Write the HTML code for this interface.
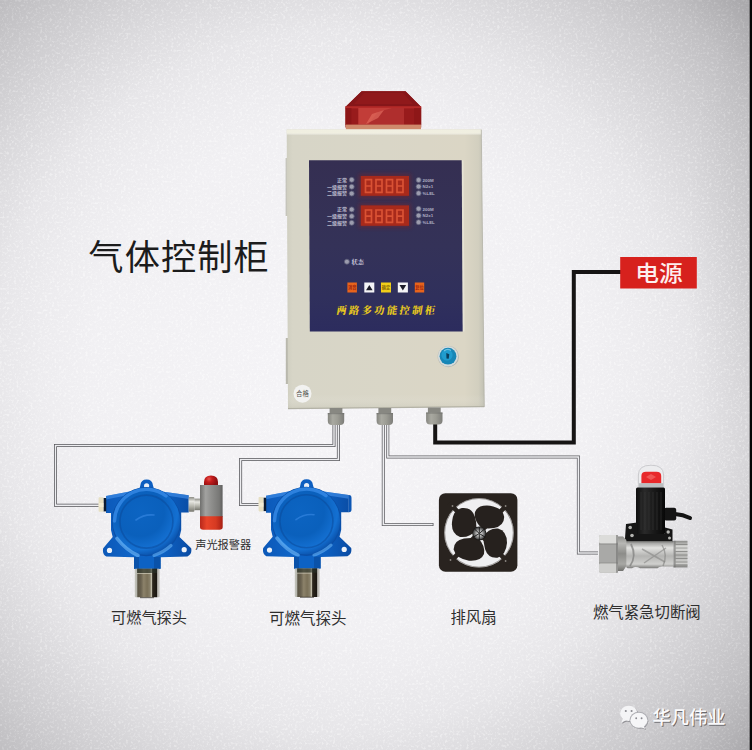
<!DOCTYPE html>
<html lang="zh-CN">
<head>
<meta charset="utf-8">
<title>气体控制柜</title>
<style>
html,body{margin:0;padding:0;background:#e9e9eb;}
body{width:752px;height:750px;overflow:hidden;position:relative;font-family:"Liberation Sans","Noto Sans CJK SC",sans-serif;}
svg{position:absolute;left:0;top:0;display:block;}
text{font-family:"Liberation Sans","Noto Sans CJK SC",sans-serif;}
.serif{font-family:"Liberation Serif","Noto Serif CJK SC",serif;}
</style>
</head>
<body>
<svg width="752" height="750" viewBox="0 0 752 750">
<defs>
  <radialGradient id="bg" gradientUnits="userSpaceOnUse" cx="340" cy="380" r="560">
    <stop offset="0.000" stop-color="#f5f4f7"/>
    <stop offset="0.446" stop-color="#f1f0f3"/>
    <stop offset="0.536" stop-color="#edecef"/>
    <stop offset="0.625" stop-color="#e7e6e9"/>
    <stop offset="0.714" stop-color="#dbdadd"/>
    <stop offset="0.804" stop-color="#cecdd0"/>
    <stop offset="0.893" stop-color="#c0bfc2"/>
    <stop offset="0.964" stop-color="#afaeb1"/>
    <stop offset="1.000" stop-color="#a7a6a9"/>
  </radialGradient>
  <radialGradient id="bgbr" gradientUnits="userSpaceOnUse" cx="0" cy="0" r="1" gradientTransform="translate(756 255) scale(70 250)">
    <stop offset="0" stop-color="#000" stop-opacity="0.042"/>
    <stop offset="0.5" stop-color="#000" stop-opacity="0.02"/>
    <stop offset="1" stop-color="#000" stop-opacity="0"/>
  </radialGradient>
  <radialGradient id="grainmask" gradientUnits="userSpaceOnUse" cx="340" cy="380" r="560">
    <stop offset="0" stop-color="#fff" stop-opacity="1"/>
    <stop offset="0.6" stop-color="#fff" stop-opacity="0.9"/>
    <stop offset="0.8" stop-color="#fff" stop-opacity="0.55"/>
    <stop offset="1" stop-color="#fff" stop-opacity="0.3"/>
  </radialGradient>
  <filter id="blur2" x="-20%" y="-40%" width="140%" height="180%"><feGaussianBlur stdDeviation="2"/></filter>
  <filter id="grain" x="0" y="0" width="100%" height="100%">
    <feTurbulence type="fractalNoise" baseFrequency="0.42" numOctaves="2" seed="7" result="n"/>
    <feColorMatrix in="n" type="matrix" values="0 0 0 0 1  0 0 0 0 1  0 0 0 0 1  2.2 2.2 2.2 0 -3.3" result="g"/>
    <feComposite in="g" in2="SourceGraphic" operator="in"/>
  </filter>
  <!-- cabinet -->
  <linearGradient id="cab" x1="0" y1="0" x2="1" y2="0">
    <stop offset="0" stop-color="#cfcec0"/>
    <stop offset="0.03" stop-color="#d7d5c7"/>
    <stop offset="0.5" stop-color="#d9d6c7"/>
    <stop offset="0.9" stop-color="#dbd6c5"/>
    <stop offset="0.97" stop-color="#d2cfbf"/>
    <stop offset="1" stop-color="#c0bfb3"/>
  </linearGradient>
  <linearGradient id="cabv" x1="0" y1="0" x2="0" y2="1">
    <stop offset="0" stop-color="#f3f2e4" stop-opacity="0.9"/>
    <stop offset="0.012" stop-color="#f3f2e4" stop-opacity="0.9"/>
    <stop offset="0.02" stop-color="#ffffff" stop-opacity="0"/>
    <stop offset="0.95" stop-color="#ffffff" stop-opacity="0"/>
    <stop offset="1" stop-color="#b8b7a8" stop-opacity="0.3"/>
  </linearGradient>
  <linearGradient id="panel" x1="0" y1="0" x2="0" y2="1">
    <stop offset="0" stop-color="#352f52"/>
    <stop offset="0.5" stop-color="#343258"/>
    <stop offset="0.8" stop-color="#30305c"/>
    <stop offset="1" stop-color="#2c2c5e"/>
  </linearGradient>
  <linearGradient id="gland" x1="0" y1="0" x2="1" y2="0">
    <stop offset="0" stop-color="#85857f"/>
    <stop offset="0.3" stop-color="#a9a9a1"/>
    <stop offset="0.6" stop-color="#9c9c94"/>
    <stop offset="1" stop-color="#7d7d79"/>
  </linearGradient>
  <g id="glandg">
    <rect x="-6.400" y="0" width="12.800" height="5.500" fill="#888882"/>
    <path d="M-8.2 5 h16.4 v8 q0 4 -4 4 h-8.4 q-4 0 -4 -4z" fill="url(#gland)"/>
    <rect x="-8.2" y="5" width="16.4" height="1.2" fill="#6f6f6d" opacity="0.6"/>
  </g>
</defs>

<!-- background -->
<rect x="0" y="0" width="752" height="750" fill="url(#bg)"/>
<rect x="680" y="0" width="72" height="520" fill="url(#bgbr)"/>
<rect x="0" y="0" width="752" height="750" fill="url(#grainmask)" filter="url(#grain)" opacity="0.45"/>
<rect x="749.7" y="0" width="2.3" height="750" fill="#050505"/>

<!-- ================= WIRES ================= -->
<g fill="none" stroke-linejoin="miter">
  <g stroke="#55555a" stroke-width="3">
    <path d="M334 424 V445.4 H55.5 V505.2 H99"/>
    <path d="M338.4 424 V459.4 H240.6 V504.4 H259.5"/>
  </g>
  <g stroke="#5e5e63" stroke-width="3">
    <path d="M383.3 424 V524.4 H433.5"/>
    <path d="M387.8 424 V457 H578.4 V553 H598"/>
  </g>
  <g stroke="#ededf0" stroke-width="1.5">
    <path d="M334 424 V445.4 H55.5 V505.2 H99"/>
    <path d="M338.4 424 V459.4 H240.6 V504.4 H259.5"/>
    <path d="M383.3 424 V524.4 H432.7"/>
    <path d="M387.8 424 V457 H578.4 V553 H598"/>
  </g>
  <!-- power cable -->
  <path d="M435.2 423 V442.4 H573.8 V272.1 H621" stroke="#161414" stroke-width="4"/>
</g>

<!-- ================= CABINET ================= -->
<g id="cabinet">
  <!-- side hinge -->
  <rect x="285.800" y="338" width="2.600" height="46" fill="#b9b8ad"/>
  <rect x="285.600" y="158" width="2.400" height="58" fill="#bdbcb0" opacity="0.85"/>
  <!-- beacon -->
  <g id="beacon">
    <path d="M345.4 127.5 V107 L361.6 91.3 H405.5 L421.2 107 V127.5 Z" fill="#981b1c"/>
    <path d="M361.6 91.3 H405.5 L421.2 107 H345.4 Z" fill="#861619"/>
    <path d="M364 93 H403 L413 104 H354 Z" fill="#90191b"/>
    <rect x="345.4" y="106.2" width="75.8" height="2.2" fill="#b42a28"/>
    <rect x="358.3" y="108" width="45.7" height="16.5" fill="#c23d38"/>
    <path d="M368 124.5 L378 112 L392 108 H404 V124.5Z" fill="#a82a2a" opacity="0.75"/>
    <path d="M366 124 L372 114 L384 110 L378 118Z" fill="#e06a5c" opacity="0.7"/>
    <rect x="345.4" y="108" width="6" height="17" fill="#8a1517" opacity="0.8"/>
    <rect x="414" y="108" width="7.2" height="17" fill="#8a1517" opacity="0.7"/>
    <rect x="345.800" y="124.600" width="75.200" height="5" fill="#cf8a6c"/>
  </g>
  <!-- body -->
  <path d="M286.7 129.6 H481.3 L484.3 406.8 L288 408.8 Z" fill="url(#cab)"/>
  <path d="M286.7 129.6 H481.3 L484.3 406.8 L288 408.8 Z" fill="url(#cabv)"/>
  <path d="M481.3 129.6 L484.3 406.8" stroke="#aeada0" stroke-width="1" opacity="0.7"/>
  <path d="M288 408.6 L484.3 406.7" stroke="#a9a89b" stroke-width="1.2" opacity="0.8"/>

  <!-- blue panel -->
  <path d="M309 160.200 H461.700 L462.700 331.500 H309.800 Z" fill="url(#panel)"/>
  <path d="M461.700 160.200 L462.700 331.500" stroke="#ebe9dc" stroke-width="1.600" opacity="0.7" transform="translate(1,0)"/>

  <!-- LED displays -->
  <g>
    <rect x="359" y="174" width="51.500" height="24" fill="#8a2420" opacity="0.45" filter="url(#blur2)"/>
    <rect x="359" y="203.500" width="51.500" height="24" fill="#8a2420" opacity="0.45" filter="url(#blur2)"/>
    <rect x="360.800" y="176" width="48.200" height="19.800" fill="#a82a1b"/>
    <rect x="360.800" y="205.400" width="48.200" height="20.400" fill="#a82a1b"/>
    <g fill="none" stroke="#da5234" stroke-width="1.700">
      <path d="M365.5 179.6h6v6.4h-6zM365.5 186h6v6.4h-6z"/>
      <path d="M376 179.6h6v6.4h-6zM376 186h6v6.4h-6z"/>
      <path d="M386.5 179.6h6v6.4h-6zM386.5 186h6v6.4h-6z"/>
      <path d="M397 179.6h6v6.4h-6zM397 186h6v6.4h-6z"/>
      <path d="M365.5 210h6v6.2h-6zM365.5 216.200h6v6.2h-6z"/>
      <path d="M376 210h6v6.2h-6zM376 216.200h6v6.2h-6z"/>
      <path d="M386.500 210h6v6.2h-6zM386.500 216.200h6v6.2h-6z"/>
      <path d="M397 210h6v6.2h-6zM397 216.200h6v6.2h-6z"/>
    </g>
  </g>
  <!-- indicator leds -->
  <g fill="#9c9cae" stroke="#5a5a76" stroke-width="0.800">
    <circle cx="351.7" cy="179.8" r="2.5"/><circle cx="351.7" cy="186.7" r="2.5"/><circle cx="351.700" cy="193.600" r="2.5"/>
    <circle cx="351.7" cy="209.4" r="2.5"/><circle cx="351.7" cy="216.200" r="2.5"/><circle cx="351.700" cy="222.800" r="2.500"/>
    <circle cx="418.6" cy="180" r="2.5"/><circle cx="418.6" cy="186.600" r="2.5"/><circle cx="418.600" cy="193.200" r="2.5"/>
    <circle cx="418.6" cy="208.800" r="2.5"/><circle cx="418.6" cy="215.600" r="2.5"/><circle cx="418.600" cy="222.200" r="2.500"/>
    <circle cx="346.9" cy="261.7" r="2.500"/>
  </g>
  <g fill="#b8b8ca" font-size="5" font-weight="700" text-anchor="end">
    <text x="347" y="181.600">正常</text>
    <text x="347" y="188.500">一级报警</text>
    <text x="347" y="195.400">二级报警</text>
    <text x="347" y="211.200">正常</text>
    <text x="347" y="218">一级报警</text>
    <text x="347" y="224.600">二级报警</text>
  </g>
  <g fill="#b0b0c4" font-size="4.400" font-weight="700">
    <text x="422.600" y="181.700">200M</text>
    <text x="422.600" y="188.300">N2x1</text>
    <text x="422.600" y="194.900">%LEL</text>
    <text x="422.600" y="210.500">200M</text>
    <text x="422.600" y="217.300">N2x1</text>
    <text x="422.600" y="223.900">%LEL</text>
  </g>
  <text x="351.500" y="264" font-size="6.200" font-weight="700" fill="#d4d4e2" class="serif">状态</text>

  <!-- buttons -->
  <g>
    <rect x="347.4" y="282.5" width="9.500" height="10" fill="#e8641c"/>
    <rect x="364.300" y="282.500" width="10" height="10" fill="#f4f4f6"/>
    <rect x="381" y="282.500" width="10" height="10" fill="#f2cf1a"/>
    <rect x="397.800" y="282.500" width="10.100" height="10" fill="#f4f4f6"/>
    <rect x="414.800" y="282.500" width="9.400" height="10" fill="#e8641c"/>
    <path d="M366 290.300 L369.300 285 L372.600 290.300Z" fill="#1d1d2a"/>
    <path d="M399.500 285 L406.200 285 L402.850 290.400Z" fill="#1d1d2a"/>
    <g font-size="4.200" font-weight="700" text-anchor="middle">
      <text x="352.150" y="289.200" fill="#a02410">消音</text>
      <text x="386" y="289.200" fill="#8a6a08">确定</text>
      <text x="419.500" y="289.200" fill="#a02410">复位</text>
    </g>
  </g>
  <!-- panel title -->
  <g transform="translate(336,314.300) skewX(-9)"><text x="0" y="0" font-size="10.200" font-weight="900" fill="#e6c620" class="serif" textLength="98.500" lengthAdjust="spacing">两路多功能控制柜</text></g>

  <!-- lock -->
  <circle cx="448.300" cy="356.600" r="10.600" fill="#8e9698" opacity="0.55"/>
  <circle cx="448" cy="356.200" r="10.200" fill="#d3dada"/>
  <circle cx="448" cy="356.200" r="8.400" fill="#1786b6"/>
  <circle cx="447" cy="355" r="5.600" fill="#22a0d2" opacity="0.85"/>
  <path d="M444 351 a6 6 0 0 1 7 -0.500" fill="none" stroke="#8fd6f2" stroke-width="1.200" opacity="0.7"/>
  <path d="M446.300 353 l3 1.200 l-0.600 4.600 l-2.200 -0.400z" fill="#0b3e5c"/>

  <!-- sticker -->
  <circle cx="302.500" cy="393.700" r="9" fill="#f2f2f0"/>
  <text x="302.500" y="396" font-size="6.400" text-anchor="middle" fill="#55554f">合格</text>

  <!-- glands -->
  <use href="#glandg" x="336" y="408"/>
  <use href="#glandg" x="384.800" y="408"/>
  <use href="#glandg" x="434.300" y="407.500"/>
</g>

<!-- ================= TITLE ================= -->
<text x="88.300" y="269.800" font-size="35.200" font-weight="400" fill="#1c1c1c" textLength="180.500" lengthAdjust="spacing">气体控制柜</text>

<!-- power label -->
<rect x="620.200" y="257" width="76.600" height="31.500" fill="#d7211d"/>
<text x="635.200" y="281.300" font-size="21.800" font-weight="500" textLength="47.500" lengthAdjust="spacingAndGlyphs" fill="#fdeeee">电源</text>

<!--DEVICES-START-->
<defs>
  <radialGradient id="lid" gradientUnits="userSpaceOnUse" cx="140" cy="512" r="44">
    <stop offset="0" stop-color="#0c64c2"/>
    <stop offset="0.55" stop-color="#0a60bc"/>
    <stop offset="0.85" stop-color="#1470d2"/>
    <stop offset="1" stop-color="#0b54ae"/>
  </radialGradient>
  <linearGradient id="bodyb" gradientUnits="userSpaceOnUse" x1="103" y1="0" x2="191" y2="0">
    <stop offset="0" stop-color="#0c58b8"/>
    <stop offset="0.3" stop-color="#0f64c6"/>
    <stop offset="0.7" stop-color="#0d60c2"/>
    <stop offset="1" stop-color="#0a4ca4"/>
  </linearGradient>
  <linearGradient id="sens" gradientUnits="userSpaceOnUse" x1="134.800" y1="0" x2="159.600" y2="0">
    <stop offset="0" stop-color="#c4c4bc"/>
    <stop offset="0.08" stop-color="#b8b8b0"/>
    <stop offset="0.12" stop-color="#5a5444"/>
    <stop offset="0.25" stop-color="#6a6250"/>
    <stop offset="0.36" stop-color="#8c826a"/>
    <stop offset="0.5" stop-color="#7a7058"/>
    <stop offset="0.62" stop-color="#8a826c"/>
    <stop offset="0.67" stop-color="#c8c4b0"/>
    <stop offset="0.72" stop-color="#2c261c"/>
    <stop offset="0.89" stop-color="#1a1610"/>
    <stop offset="0.92" stop-color="#bcbab4"/>
    <stop offset="1" stop-color="#c4c2bc"/>
  </linearGradient>
  <linearGradient id="nutv" x1="0" y1="0" x2="0" y2="1">
    <stop offset="0" stop-color="#8d8d86"/>
    <stop offset="0.3" stop-color="#e6e6e0"/>
    <stop offset="0.6" stop-color="#b9b9b0"/>
    <stop offset="1" stop-color="#77776f"/>
  </linearGradient>
  <g id="det">
    <!-- top lug -->
    <path d="M138.500 491.500 Q140 488 140.300 485.500 Q141 479.600 146.600 479.600 Q152.300 479.600 153 485.500 Q153.300 488 155.500 491.500Z" fill="#0d5ec0"/>
    <circle cx="146.600" cy="485.800" r="2.600" fill="#e9eef6"/>
    <!-- housing -->
    <path d="M106 496 L131 491.200 H160 L188.700 495.200 V512.600 H181.200 V530 L179.500 537 L191.200 548.300 Q192.300 554 187.400 556.600 L160.500 557.300 V568.700 H134 V557.300 L106.300 556.600 Q102 554 103.200 548.300 L112.700 537 L111 530 V513 H106 Z" fill="url(#bodyb)"/>
    <path d="M106 496 L131 491.200 H160 L188.700 495.200 V499 L160 494.500 H131 L106 499.500Z" fill="#4a98f0" opacity="0.55"/>
    <circle cx="109.500" cy="550.400" r="2.600" fill="#eef2f8"/>
    <circle cx="184.200" cy="549.700" r="2.600" fill="#eef2f8"/>
    <!-- lid -->
    <circle cx="146.400" cy="521.600" r="34.600" fill="#0a4ea6"/>
    <circle cx="146.400" cy="521.200" r="33.700" fill="url(#lid)"/>
    <path d="M114.500 521 A32 32 0 0 1 166 496" fill="none" stroke="#3a8cea" stroke-width="3.400" opacity="0.75" stroke-linecap="round"/>
    <circle cx="146.400" cy="521.600" r="26.500" fill="none" stroke="#094898" stroke-width="1.600" opacity="0.5"/>
    <path d="M117 538.500 Q126 550 138 555.500" fill="none" stroke="#66b4f8" stroke-width="3.600" opacity="0.7" stroke-linecap="round"/>
    <path d="M154 555.500 Q164 552 171 545.500" fill="none" stroke="#66b4f8" stroke-width="3.200" opacity="0.6" stroke-linecap="round"/>
    <path d="M136 520 q8 -6 18 -5" fill="none" stroke="#3a8ae6" stroke-width="1.600" opacity="0.6" stroke-linecap="round"/>
    <!-- neck shading -->
    <rect x="134" y="557" width="26.500" height="11.700" fill="#0d62c4"/>
    <rect x="134" y="557" width="5" height="11.700" fill="#094898" opacity="0.6"/>
    <rect x="154" y="557" width="6.500" height="11.700" fill="#094898" opacity="0.6"/>
    <!-- sensor -->
    <rect x="134.800" y="568.700" width="24.800" height="28.600" rx="1" fill="url(#sens)"/>
    <rect x="137" y="568.700" width="20" height="4.300" fill="#2a3228" opacity="0.6"/>
    <rect x="137" y="573" width="15" height="0.900" fill="#d8d6c4" opacity="0.7"/>
    <rect x="140" y="597" width="14" height="1.200" fill="#2a251c" opacity="0.6"/>
    <!-- left gland -->
    <rect x="103.400" y="498" width="2.800" height="13.400" fill="#0c1a30"/>
    <rect x="98.600" y="497.300" width="4.900" height="14.400" rx="0.800" fill="#e6dfc2"/>
    <rect x="98.600" y="503" width="4.900" height="4" fill="#f4eed8" opacity="0.8"/>
  </g>
</defs>

<!-- detector 1 -->
<use href="#det"/>
<!-- connector to alarm -->
<rect x="188.700" y="497" width="5.700" height="14.800" rx="1" fill="url(#nutv)"/>
<rect x="194.400" y="498.600" width="6" height="11.600" fill="url(#nutv)"/>
<!-- detector 2 -->
<use href="#det" transform="translate(160,-0.300)"/>
<path d="M348.500 494.900 h0.500 q2.500 0 2.500 3 v11.400 q0 3 -2.500 3 h-0.500z" fill="#0c56b4"/>

<!-- alarm -->
<defs>
  <linearGradient id="alg" gradientUnits="userSpaceOnUse" x1="200" y1="0" x2="222.600" y2="0">
    <stop offset="0" stop-color="#6f6f6d"/>
    <stop offset="0.25" stop-color="#a2a2a0"/>
    <stop offset="0.5" stop-color="#8f8f8d"/>
    <stop offset="0.85" stop-color="#787876"/>
    <stop offset="1" stop-color="#5f5f5e"/>
  </linearGradient>
  <linearGradient id="alr" gradientUnits="userSpaceOnUse" x1="200" y1="0" x2="222.600" y2="0">
    <stop offset="0" stop-color="#b8281a"/>
    <stop offset="0.3" stop-color="#e8452a"/>
    <stop offset="0.7" stop-color="#d63a22"/>
    <stop offset="1" stop-color="#a82014"/>
  </linearGradient>
  <radialGradient id="ald" gradientUnits="userSpaceOnUse" cx="209" cy="479" r="8">
    <stop offset="0" stop-color="#e8504a"/>
    <stop offset="0.4" stop-color="#c41c1c"/>
    <stop offset="1" stop-color="#8c1012"/>
  </radialGradient>
</defs>
<path d="M204 486 V482 Q204 475.400 211 475.400 Q218 475.400 218 482 V486Z" fill="url(#ald)"/>
<rect x="200" y="485" width="22.600" height="32" fill="url(#alg)"/>
<path d="M200 516.300 H222.700 V527 Q222.700 529.800 219.500 529.800 H203.200 Q200 529.800 200 527Z" fill="url(#alr)"/>

<!-- fan -->
<defs>
  <radialGradient id="hub" gradientUnits="userSpaceOnUse" cx="479.300" cy="533.500" r="7">
    <stop offset="0" stop-color="#f2f2f2"/>
    <stop offset="0.5" stop-color="#a0a0a0"/>
    <stop offset="1" stop-color="#222"/>
  </radialGradient>
</defs>
<g id="fan">
  <rect x="438.900" y="493.200" width="78.500" height="78.500" rx="6.500" fill="#29231f"/>
  <circle cx="479" cy="532.800" r="34.800" fill="#efeff1"/>
  <circle cx="479" cy="532.800" r="34.300" fill="none" stroke="#4a443f" stroke-width="1" opacity="0.5"/>
  <g stroke="#29231f" stroke-width="4.600" stroke-linecap="butt">
    <path d="M449 503 L479 533"/><path d="M509 503 L479 533"/>
    <path d="M449 563 L479 533"/><path d="M509 563 L479 533"/>
  </g>
  <g fill="#26211e">
    <path d="M476 530 Q470 538 460 537 Q451 534 452 522 Q453 510 462 508 Q472 507 475 517 Q477 524 476 530Z"/>
    <path d="M481 527.500 Q473.500 520 475 512 Q478 504.500 490 505.700 Q503 508 504.200 517 Q504 526 494 528 Q487 529 481 527.500Z"/>
    <path d="M483.700 536 Q489 527.700 498 528.500 Q507 531 507 543 Q506 555 497.500 557.700 Q488 558.500 485 549 Q483 542 483.700 536Z"/>
    <path d="M478.500 538.500 Q485.500 546 484 554 Q481 561.500 469 560.700 Q456 558.500 453.600 549.500 Q453.500 540.500 464 538.500 Q471 537.500 478.500 538.500Z"/>
  </g>
  <circle cx="479.300" cy="533.500" r="7" fill="#1c1917"/>
  <circle cx="479.300" cy="533.200" r="6.300" fill="url(#hub)"/>
  <g stroke="#111" stroke-width="1" opacity="0.85">
    <path d="M479.300 533.500 L474.500 529"/><path d="M479.300 533.500 L484.500 529"/><path d="M479.300 533.500 L479.300 540"/>
    <path d="M479.300 533.500 L473.500 537"/><path d="M479.300 533.500 L485.200 537.200"/><path d="M479.300 533.500 L479.300 527"/>
  </g>
  <g fill="#8a8580">
    <circle cx="452.500" cy="506" r="0.900"/><circle cx="505.600" cy="506" r="0.900"/>
    <circle cx="450.500" cy="560" r="0.900"/><circle cx="505.600" cy="561" r="0.900"/>
  </g>
</g>

<!-- valve -->
<defs>
  <linearGradient id="steelv" x1="0" y1="0" x2="0" y2="1">
    <stop offset="0" stop-color="#8c8c8a"/>
    <stop offset="0.25" stop-color="#e2e2e0"/>
    <stop offset="0.55" stop-color="#b4b4b2"/>
    <stop offset="0.85" stop-color="#d0d0ce"/>
    <stop offset="1" stop-color="#7a7a78"/>
  </linearGradient>
  <linearGradient id="nutk" x1="0" y1="0" x2="0" y2="1">
    <stop offset="0" stop-color="#a4a4a0"/>
    <stop offset="0.2" stop-color="#d8d8d4"/>
    <stop offset="0.5" stop-color="#a0a09c"/>
    <stop offset="0.8" stop-color="#c4c4c0"/>
    <stop offset="1" stop-color="#7c7c78"/>
  </linearGradient>
  <linearGradient id="sol" gradientUnits="userSpaceOnUse" x1="636" y1="0" x2="665" y2="0">
    <stop offset="0" stop-color="#0f0f0f"/>
    <stop offset="0.3" stop-color="#2a2a2a"/>
    <stop offset="0.6" stop-color="#1a1a1a"/>
    <stop offset="1" stop-color="#080808"/>
  </linearGradient>
</defs>
<g id="valve">
  <!-- cable -->
  <path d="M664 514 H675 Q683 514.500 690 518" fill="none" stroke="#141414" stroke-width="4" stroke-linecap="round"/>
  <rect x="664" y="507.800" width="12.200" height="12.600" rx="2" fill="#151515"/>
  <!-- cap -->
  <path d="M638.400 488.500 V475 Q638.400 465.200 651 465.200 Q663.600 465.200 663.600 475 V488.500Z" fill="#ececee"/>
  <path d="M638.400 488.500 V475 Q638.400 465.200 651 465.200 Q663.600 465.200 663.600 475 V488.500Z" fill="none" stroke="#c6c6ca" stroke-width="0.900"/>
  <path d="M641.400 483.200 V476 Q641.400 471.800 646 471.800 H656.500 Q661.200 471.800 661.200 476 V483.200Z" fill="#e8282a"/>
  <path d="M646 477 l5 -3 l5 3 l-5 3z" fill="#f46a66" opacity="0.7"/>
  <rect x="639" y="483.200" width="24" height="4.500" fill="#a9afb0" opacity="0.75"/>
  <!-- solenoid -->
  <rect x="636" y="487.400" width="29" height="47" rx="1.500" fill="url(#sol)"/>
  <g stroke="#3a3a3a" stroke-width="0.700" opacity="0.8">
    <path d="M641 492V530"/><path d="M645 492V530"/><path d="M649 492V530"/><path d="M653 492V530"/><path d="M657 492V530"/><path d="M661 492V530"/>
  </g>
  <!-- flange -->
  <path d="M626 524 L637 522.500 V534 H665 V527.500 L672.500 529.500 V541.500 H624.800 Z" fill="#161616"/>
  <g fill="#b5b5b2">
    <circle cx="630.200" cy="527.500" r="1.800"/><circle cx="632" cy="535.500" r="1.800"/>
    <circle cx="668.200" cy="532" r="1.700"/><circle cx="669.500" cy="538" r="1.500"/>
  </g>
  <!-- body -->
  <path d="M626 541 H673.500 V566.500 H662 Q659 566.500 657.500 568.200 H640 Q636 566 632 568.200 H628 Q626 568.200 626 565Z" fill="url(#steelv)"/>
  <path d="M631 544 Q637 556 630 566" stroke="#7c7c7a" stroke-width="1.800" opacity="0.7" fill="none"/>
  <path d="M642 549 L665 562 M666 548 L644 563" stroke="#8a8a88" stroke-width="1.500" opacity="0.65" fill="none"/>
  <path d="M626 541.600 H673.500" stroke="#6a6a68" stroke-width="1.400" opacity="0.7"/>
  <path d="M662 545 Q668 555 663 566" stroke="#80807e" stroke-width="1.400" opacity="0.6" fill="none"/>
  <!-- right pipe -->
  <rect x="673.500" y="540.800" width="14" height="26.600" fill="url(#steelv)"/>
  <g stroke="#7f7f7d" stroke-width="0.900" opacity="0.85">
    <path d="M675.500 544.500H687.500"/><path d="M675.500 548H687.500"/><path d="M675.500 551.500H687.500"/><path d="M675.500 555H687.500"/><path d="M675.500 558.500H687.500"/><path d="M675.500 562H687.500"/><path d="M675.500 565H687.500"/>
  </g>
  <rect x="673.500" y="540.800" width="2.200" height="26.600" fill="#70706e" opacity="0.6"/>
  <!-- collar + nut -->
  <path d="M617.600 536.500 H623 L626.300 540 V566 L623 570.900 H617.600Z" fill="url(#nutk)"/>
  <path d="M617.600 536.500 H623 L626.300 540 V566 L623 570.900 H617.600Z" fill="#555" opacity="0.25"/>
  <rect x="599" y="535" width="18.800" height="37.800" rx="1.800" fill="#a9a9a7"/>
  <rect x="599" y="535" width="18.800" height="8.600" rx="1.800" fill="#dcdcda"/>
  <rect x="599" y="563" width="18.800" height="9.800" rx="1.800" fill="#cfcfcd"/>
  <rect x="599" y="543.600" width="18.800" height="1" fill="#8a8a88" opacity="0.7"/>
  <rect x="599" y="562.500" width="18.800" height="1" fill="#8a8a88" opacity="0.7"/>
  <rect x="616" y="535" width="2" height="37.800" fill="#6e6e6c" opacity="0.55"/>
</g>

<!--DEVICES-END-->

<!-- labels -->
<g fill="#2e2e2e">
  <text x="149" y="622.700" font-size="15.200" text-anchor="middle">可燃气探头</text>
  <text x="307.800" y="623.800" font-size="15.500" text-anchor="middle">可燃气探头</text>
  <text x="223.200" y="548.700" font-size="11.200" text-anchor="middle">声光报警器</text>
  <text x="473.500" y="623.300" font-size="15.400" text-anchor="middle">排风扇</text>
  <text x="646.800" y="618.400" font-size="15.400" text-anchor="middle">燃气紧急切断阀</text>
</g>

<!-- watermark -->
<g>
  <g fill="#66666c" opacity="0.6" transform="translate(0.9,1)">
    <ellipse cx="628.800" cy="713.400" rx="8.700" ry="7.700"/>
    <ellipse cx="638.900" cy="720.200" rx="8.500" ry="7.500"/>
    <path d="M623 718.500 l-1.800 4.200 l5 -2.400z"/>
    <path d="M643.500 725.500 l1.800 3.400 l-4.600 -2z"/>
  </g>
  <ellipse cx="628.800" cy="713.400" rx="8.700" ry="7.700" fill="#f4f4f6"/>
  <path d="M623 718.500 l-1.800 4.200 l5 -2.400z" fill="#f4f4f6"/>
  <ellipse cx="638.900" cy="720.200" rx="9.400" ry="8.400" fill="#aeaeb3"/>
  <ellipse cx="638.900" cy="720.200" rx="8.500" ry="7.500" fill="#f6f6f8"/>
  <path d="M643.500 725.500 l1.800 3.400 l-4.600 -2z" fill="#f6f6f8"/>
  <g fill="#8a8a90">
    <circle cx="625.800" cy="711" r="1.050"/><circle cx="631.600" cy="711" r="1.050"/>
    <circle cx="636.200" cy="718.200" r="0.950"/><circle cx="641.600" cy="718.200" r="0.950"/>
  </g>
  <text x="653.500" y="725.300" font-size="18.300" font-weight="500" fill="#4e4e54" opacity="0.75">华凡伟业</text>
  <text x="652.500" y="724.200" font-size="18.300" font-weight="500" fill="#fafafc">华凡伟业</text>
</g>
</svg>
</body>
</html>
